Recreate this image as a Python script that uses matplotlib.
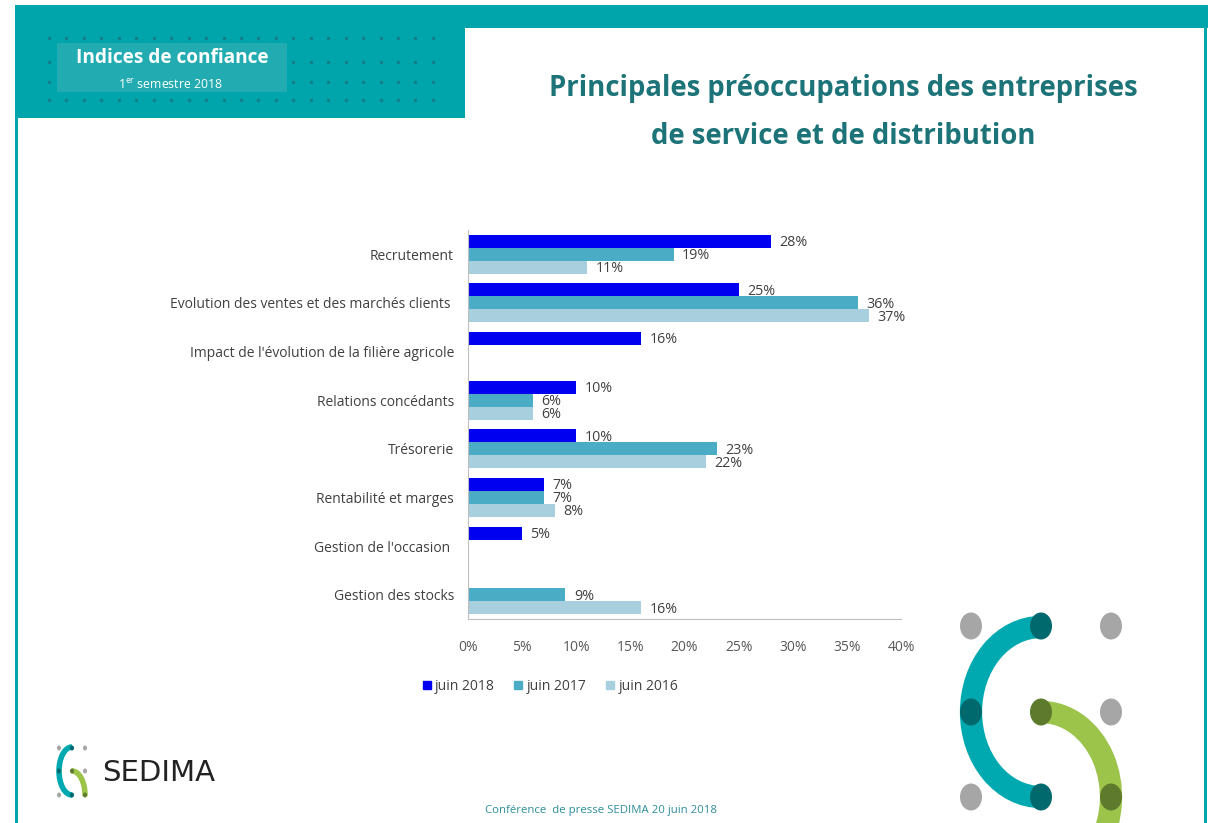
import numpy as np
import matplotlib.pyplot as plt
from matplotlib.patches import Rectangle, Arc, Ellipse
from matplotlib.lines import Line2D

plt.rcParams['font.family'] = ['Open Sans', 'DejaVu Sans']

# data (None = no bar)
categories = ["Recrutement",
              "Evolution des ventes et des marchés clients ",
              "Impact de l'évolution de la filière agricole",
              "Relations concédants",
              "Trésorerie",
              "Rentabilité et marges",
              "Gestion de l'occasion ",
              "Gestion des stocks"]
juin_2018 = [28, 25, 16, 10, 10, 7, 5, None]
juin_2017 = [19, 36, None, 6, 23, 7, None, 9]
juin_2016 = [11, 37, None, 6, 22, 8, None, 16]
series_names = ["juin 2018", "juin 2017", "juin 2016"]
x_ticks = [0, 5, 10, 15, 20, 25, 30, 35, 40]

colors = ["#0000F0", "#4BACC6", "#A8CFDD"]
teal = "#00A5AC"
W, H = 1216, 823

fig = plt.figure(figsize=(W / 100, H / 100), dpi=100)
fig.patch.set_facecolor("white")

# background / slide decorations in pixel coords
bg = fig.add_axes([0, 0, 1, 1])
bg.set_xlim(0, W)
bg.set_ylim(H, 0)
bg.axis("off")

bg.add_patch(Rectangle((15, 5), 1193, 23, color=teal, lw=0))
bg.add_patch(Rectangle((15, 5), 450, 113, color=teal, lw=0))
bg.add_patch(Rectangle((15, 5), 3, H, color=teal, lw=0))
bg.add_patch(Rectangle((1204, 5), 2.5, H, color=teal, lw=0))

for yy in [38, 62, 82, 100]:
    xs = 49 + 17.45 * np.arange(23)
    bg.scatter(xs, [yy] * len(xs), s=6, color="#127F85", lw=0, zorder=2)
bg.add_patch(Rectangle((57, 43), 230, 49, color="#22ACB1", lw=0, zorder=3))
bg.text(172, 58, "Indices de confiance", color="white", fontsize=13.7,
        fontweight="bold", ha="center", va="center", zorder=4)
bg.text(170, 85, r"1$^{\mathregular{er}}$ semestre 2018", color="white", fontsize=8.8,
        ha="center", va="center", zorder=4)

title_color = "#1C7378"
bg.text(843, 88, "Principales préoccupations des entreprises", color=title_color,
        fontsize=19.8, fontweight="bold", ha="center", va="center")
bg.text(843, 136, "de service et de distribution", color=title_color,
        fontsize=19.8, fontweight="bold", ha="center", va="center")

bg.text(601, 810, "Conférence  de presse SEDIMA 20 juin 2018", color="#2E8E9A",
        fontsize=8.2, ha="center", va="center")


def draw_logo(x0, x1, x2, y0, y1, y2, lw, dw, dh, tail=400):
    rx = x1 - x0
    for (gx, gy) in [(x0, y0), (x2, y0), (x2, y1), (x0, y2)]:
        bg.add_patch(Ellipse((gx, gy), dw, dh, color="#A6A6A6", lw=0, zorder=5))
    bg.add_patch(Arc((x1, y1), 2 * rx, 2 * (y2 - y1), theta1=90, theta2=270,
                     color="#00A8AF", lw=lw, zorder=6))
    bg.add_patch(Arc((x1, y2), 2 * (x2 - x1), 2 * (y2 - y1), theta1=270, theta2=tail,
                     color="#9CC44B", lw=lw, zorder=6))
    for (gx, gy) in [(x1, y0), (x0, y1), (x1, y2)]:
        bg.add_patch(Ellipse((gx, gy), dw, dh, color="#00696D", lw=0, zorder=7))
    for (gx, gy) in [(x1, y1), (x2, y2)]:
        bg.add_patch(Ellipse((gx, gy), dw, dh, color="#5E7A2D", lw=0, zorder=7))


draw_logo(971, 1041, 1111, 626, 712, 797, 16, 22, 27)
draw_logo(59, 72, 85, 748, 771, 795, 4, 4, 5, tail=365)
bg.text(102, 773, "SEDIMA", color="#222222", fontsize=21, ha="left", va="center",
        family=["DejaVu Sans"])

# chart
ax = fig.add_axes([468 / W, (H - 619) / H, 433 / W, 389 / H])
bh = 0.268
offsets = [-bh, 0, bh]
y = np.arange(len(categories))
for series, name, col, off in zip([juin_2018, juin_2017, juin_2016], series_names, colors, offsets):
    idx = [i for i, v in enumerate(series) if v is not None]
    vals = [series[i] for i in idx]
    ax.barh(y[idx] + off, vals, height=bh, color=col, label=name, zorder=2)
    for i, v in zip(idx, vals):
        ax.annotate(f"{v}%", (v, y[i] + off), xytext=(6, -1), textcoords="offset points",
                    ha="left", va="center", fontsize=10.3, color="#404040")

ax.set_xlim(0, 40)
ax.set_ylim(len(categories) - 0.5, -0.5)
ax.set_xticks(x_ticks)
ax.set_xticklabels([f"{t}%" for t in x_ticks])
ax.set_yticks(y)
ax.set_yticklabels(categories)
ax.tick_params(axis="x", length=0, pad=15, labelsize=10, labelcolor="#595959")
ax.tick_params(axis="y", length=0, pad=10, labelsize=10, labelcolor="#404040")
for s in ["top", "right"]:
    ax.spines[s].set_visible(False)
for s in ["left", "bottom"]:
    ax.spines[s].set_color("#BFBFBF")
ax.set_facecolor("none")

handles = [Line2D([], [], marker="s", ls="", color=c, markersize=6) for c in colors]
fig.legend(handles, series_names, loc="center", bbox_to_anchor=(549 / W, 1 - 686 / H),
           ncol=3, frameon=False, fontsize=10, handletextpad=0.1, columnspacing=1.2,
           handlelength=1.0, labelcolor="#404040")

fig.savefig("out.png", dpi=100)
